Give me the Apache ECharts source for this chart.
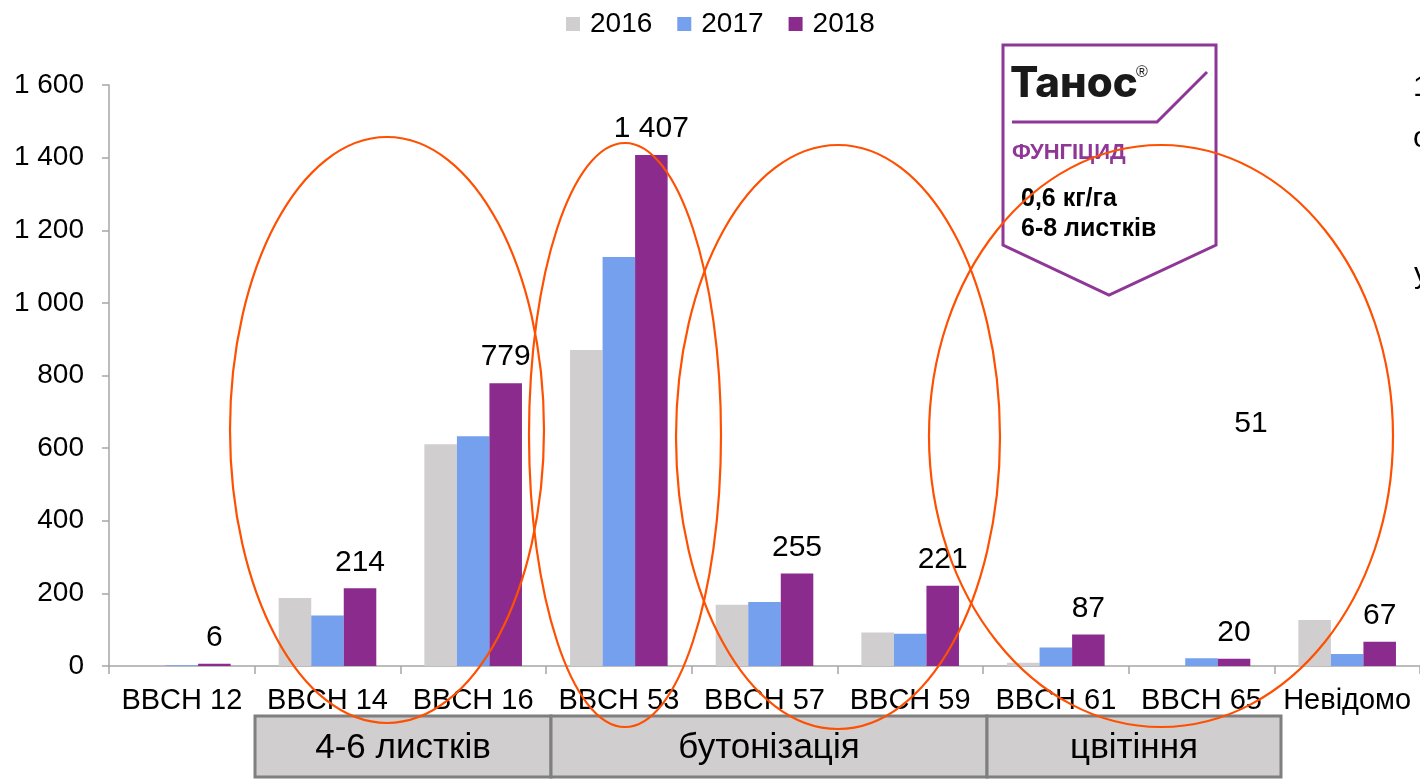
<!DOCTYPE html>
<html>
<head>
<meta charset="utf-8">
<script src="https://cdn.jsdelivr.net/npm/echarts@6/dist/echarts.min.js"></script>
<style>
html,body{margin:0;padding:0;background:#fff;}
#chart{width:1420px;height:779px;}
</style>
</head>
<body>
<div id="chart"></div>
<script>
const categories = ['BBCH 12','BBCH 14','BBCH 16','BBCH 53','BBCH 57','BBCH 59','BBCH 61','BBCH 65','Невідомо'];
const seriesNames = ['2016','2017','2018'];
const s2016 = [0, 187, 611, 870, 169, 92, 9, 0, 127];
const s2017 = [2, 139, 633, 1126, 176, 89, 51, 21, 33];
const s2018 = [6, 214, 779, 1407, 255, 221, 87, 20, 67];
const yTicks = [0, 200, 400, 600, 800, 1000, 1200, 1400, 1600];
const groupLabels = ['4-6 листків', 'бутонізація', 'цвітіння'];

const FONT = "'Liberation Sans', Arial, sans-serif";
const fmt = v => String(v).replace(/\B(?=(\d{3})+(?!\d))/g, ' ');
const colors = ['#d0cece', '#74a0ee', '#8b2b8d'];
const ORANGE = '#fe5000';

const chart = echarts.init(document.getElementById('chart'));

const ellipse = (cx, cy, rx, ry) => ({
  type: 'ellipse', z: 100, silent: true,
  shape: {cx, cy, rx, ry},
  style: {fill: 'none', stroke: ORANGE, lineWidth: 2.2}
});

const groupBox = (x1, x2, text) => ({
  type: 'group', z: 50,
  children: [
    {type: 'rect', shape: {x: x1, y: 716, width: x2 - x1, height: 61},
     style: {fill: '#d0cece', stroke: '#7f7f7f', lineWidth: 3}},
    {type: 'text', x: (x1 + x2) / 2, y: 748,
     style: {text: text, font: '35px ' + FONT, fill: '#000', align: 'center', verticalAlign: 'middle'}}
  ]
});

chart.setOption({
  animation: false,
  color: colors,
  textStyle: {fontFamily: FONT},
  legend: {
    data: seriesNames,
    top: 5,
    left: 561,
    icon: 'rect',
    itemWidth: 14,
    itemHeight: 14,
    itemGap: 25,
    textStyle: {fontSize: 28, color: '#000', fontFamily: FONT, padding: [0, 0, 0, 5]}
  },
  grid: {left: 109, right: 0, top: 85, bottom: 113, containLabel: false},
  xAxis: {
    type: 'category',
    data: categories,
    axisLine: {lineStyle: {color: '#a6a6a6', width: 1.5}},
    axisTick: {show: true, length: 8, lineStyle: {color: '#a6a6a6', width: 1.5}},
    axisLabel: {fontSize: 29, color: '#000', margin: 20, fontFamily: FONT, interval: 0}
  },
  yAxis: {
    type: 'value',
    min: 0, max: 1600, interval: 200,
    axisLine: {show: true, lineStyle: {color: '#a6a6a6', width: 1.5}},
    axisTick: {show: true, length: 7, lineStyle: {color: '#a6a6a6', width: 1.5}},
    splitLine: {show: false},
    axisLabel: {fontSize: 28, color: '#000', margin: 25, fontFamily: FONT,
      formatter: v => yTicks.includes(v) ? fmt(v) : ''}
  },
  series: [
    {name: seriesNames[0], type: 'bar', data: s2016, barGap: '0%', barCategoryGap: '33%'},
    {name: seriesNames[1], type: 'bar', data: s2017, barGap: '0%', barCategoryGap: '33%'},
    {name: seriesNames[2], type: 'bar', data: s2018, barGap: '0%', barCategoryGap: '33%',
     label: {show: true, position: 'top', distance: 11, fontSize: 30, color: '#000', fontFamily: FONT,
       formatter: p => fmt(p.value)}}
  ],
  graphic: [
    groupBox(255, 551, groupLabels[0]),
    groupBox(551, 987, groupLabels[1]),
    groupBox(987, 1281, groupLabels[2]),
    {type: 'text', x: 1251, y: 424, z: 60,
     style: {text: '51', font: '30px ' + FONT, fill: '#000', align: 'center', verticalAlign: 'middle'}},
    {type: 'text', x: 1413, y: 88, z: 60,
     style: {text: '1', font: '30px ' + FONT, fill: '#000', align: 'left', verticalAlign: 'middle'}},
    {type: 'text', x: 1413, y: 139, z: 60,
     style: {text: 'о', font: '30px ' + FONT, fill: '#000', align: 'left', verticalAlign: 'middle'}},
    {type: 'text', x: 1414, y: 275, z: 60,
     style: {text: 'у', font: '30px ' + FONT, fill: '#000', align: 'left', verticalAlign: 'middle'}},
    {type: 'group', z: 70, children: [
      {type: 'polygon', shape: {points: [[1003,45],[1216,45],[1216,245],[1109,295],[1003,245]]},
       style: {fill: '#fff', stroke: '#8e3796', lineWidth: 3}},
      {type: 'text', x: 1010, y: 84,
       style: {text: 'Танос', font: '800 42px Inter, ' + FONT, fill: '#1a1a1a', align: 'left', verticalAlign: 'middle'}},
      {type: 'text', x: 1142, y: 73,
       style: {text: '®', font: '16px ' + FONT, fill: '#1a1a1a', align: 'center', verticalAlign: 'middle'}},
      {type: 'polyline', shape: {points: [[1012,122],[1157,122],[1207,72]]},
       style: {stroke: '#8e3796', lineWidth: 3, fill: 'none'}},
      {type: 'text', x: 1012, y: 153,
       style: {text: 'ФУНГІЦИД', font: 'bold 22px ' + FONT, fill: '#8e3796', align: 'left', verticalAlign: 'middle'}},
      {type: 'text', x: 1021, y: 199,
       style: {text: '0,6 кг/га', font: 'bold 25px ' + FONT, fill: '#000', align: 'left', verticalAlign: 'middle'}},
      {type: 'text', x: 1021, y: 229,
       style: {text: '6-8 листків', font: 'bold 25px ' + FONT, fill: '#000', align: 'left', verticalAlign: 'middle'}}
    ]},
    ellipse(387, 430, 157, 293),
    ellipse(625, 435, 96, 292),
    ellipse(838, 437, 162, 292),
    ellipse(1161, 436, 232, 291)
  ]
});
</script>
</body>
</html>
